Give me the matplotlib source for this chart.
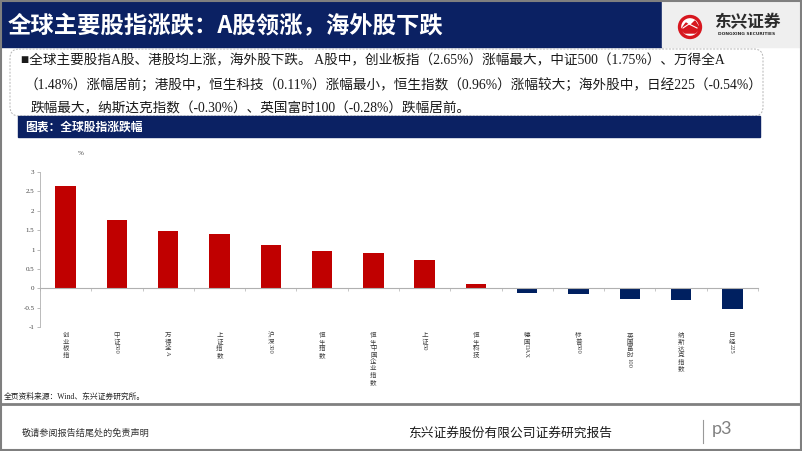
import matplotlib
matplotlib.use('Agg')
import matplotlib.pyplot as plt
import numpy as np
from matplotlib.patches import Rectangle, FancyBboxPatch, Circle, Polygon
from matplotlib.textpath import TextPath
from matplotlib.font_manager import FontProperties

# ---- data ----
names = ['创业板指', '中证500', '万得全A', '上证指数', '沪深300', '恒生指数',
         '恒生中国企业指数', '上证50', '恒生科技', '德国DAX', '标普500',
         '英国富时100', '纳斯达克指数', '日经225']
values = [2.65, 1.75, 1.48, 1.41, 1.12, 0.96, 0.92, 0.73, 0.11,
          -0.13, -0.15, -0.28, -0.30, -0.54]
yticks = [-1, -0.5, 0, 0.5, 1, 1.5, 2, 2.5, 3]

title = '全球主要股指涨跌：A股领涨，海外股下跌'
subtitle = '图表：全球股指涨跌幅'
notes = [
    '■全球主要股指A股、港股均上涨，海外股下跌。 A股中，创业板指（2.65%）涨幅最大，中证500（1.75%）、万得全A',
    '（1.48%）涨幅居前；港股中，恒生科技（0.11%）涨幅最小，恒生指数（0.96%）涨幅较大；海外股中，日经225（-0.54%）',
    '跌幅最大，纳斯达克指数（-0.30%）、英国富时100（-0.28%）跌幅居前。',
]
source = '全页资料来源：Wind、东兴证券研究所。'
disclaimer = '敬请参阅报告结尾处的免责声明'
company = '东兴证券股份有限公司证券研究报告'
page = 'p3'

NAVY = '#0b2163'
RED = '#c00000'
BLUE = '#002060'
CJK = 'Noto Sans CJK SC'
MIX = ['Liberation Serif', CJK]

W, H = 802, 451
fig = plt.figure(figsize=(W / 100, H / 100), dpi=100)

# page furniture drawn in pixel coordinates
bg = fig.add_axes([0, 0, 1, 1])
bg.set_xlim(0, W)
bg.set_ylim(H, 0)
bg.axis('off')

bg.add_patch(Rectangle((0, 0), 662, 47, color=NAVY))
bg.add_patch(Rectangle((662, 0), 140, 47, color='#efefef'))
bg.add_patch(Rectangle((0.8, 0.5), W - 2.3, H - 1.5, fill=False,
                       ec='#7f7f7f', lw=1.5))
bg.text(8, 26, title, color='white', fontsize=16.8, fontweight='bold',
        family=CJK, va='center')

# logo
bg.add_patch(Circle((690, 27), 10.5, fc='white', ec='#d7171f', lw=2.4))
bg.add_patch(Polygon([(681, 30), (686, 23), (690, 26), (695, 21), (700, 29),
                      (695, 33), (685, 33)], closed=True, color='#d7171f'))
bg.plot([683, 689, 697], [28, 24, 28], color='white', lw=0.8)
bg.text(747, 22, '东兴证券', fontsize=12, fontweight='bold', family=CJK,
        color='#2b2b2b', ha='center', va='center')
bg.text(747, 34, 'DONGXING SECURITIES', fontsize=3.2, fontweight='bold',
        color='#2b2b2b', ha='center', va='center')

# summary box
bg.add_patch(FancyBboxPatch((10, 49), 753, 67,
                            boxstyle='round,pad=0,rounding_size=9',
                            fill=False, ec='#b4b4b4', lw=0.7, ls=(0, (2, 1.5))))
for i, (line, x) in enumerate(zip(notes, [21, 24, 31])):
    bg.text(x, 61 + i * 24, line, fontsize=9.8, family=MIX, color='#1a1a1a',
            fontweight='light', va='center')

bg.add_patch(Rectangle((18, 116), 742, 21, color=NAVY))
bg.text(25, 127, subtitle, color='white', fontsize=8.5, fontweight='bold',
        family=CJK, va='center')

# footer
bg.text(4, 397, source, fontsize=5.6, family=MIX, color='#222222', va='center')
bg.plot([0, W], [404, 404], color='#808080', lw=2)
bg.text(22, 433, disclaimer, fontsize=6.6, family=CJK, color='#333333',
        va='center')
bg.text(408, 433, company, fontsize=9.2, family=CJK, color='#1a1a1a',
        va='center')
bg.plot([703, 703], [420, 443], color='#999999', lw=0.8)
bg.text(712, 429, page, fontsize=13, family='Lato', color='#808080',
        va='center')

# ---- chart ----
ax = fig.add_axes([40 / W, 1 - 327 / H, 718 / W, 155 / H])
ax.patch.set_alpha(0)
x = np.arange(len(names))
vals = np.array(values)
colors = np.where(vals >= 0, RED, BLUE)
ax.bar(x, vals, width=0.4, color=colors, zorder=2)

ax.set_xlim(-0.5, len(names) - 0.5)
ax.set_ylim(-1, 3)
ax.set_yticks(yticks)
ax.set_yticklabels(['%g' % t for t in yticks], family='Liberation Serif',
                   fontsize=5, color='#404040')
ax.tick_params(axis='y', length=2, width=0.5, color='#a0a0a0', pad=2)
ax.spines['top'].set_visible(False)
ax.spines['right'].set_visible(False)
ax.spines['left'].set_color('#b0b0b0')
ax.spines['left'].set_linewidth(0.6)
ax.spines['bottom'].set_position(('data', 0))
ax.spines['bottom'].set_color('#b0b0b0')
ax.spines['bottom'].set_linewidth(0.8)
ax.set_xticks(np.arange(len(names) + 1) - 0.5)
ax.set_xticklabels([])
ax.tick_params(axis='x', length=2, width=0.5, color='#b0b0b0')

ax.annotate('%', xy=(0, 1), xycoords='axes fraction', xytext=(29, 13),
            textcoords='offset points', fontsize=5, family='Liberation Serif',
            color='#404040', ha='center', va='center')

# vertical category labels: CJK glyphs upright, latin runs turned
fs = 4.7
latin = FontProperties(family='Liberation Serif')
trans = ax.get_xaxis_transform()
for i, name in enumerate(names):
    runs = []
    for ch in name:
        if ord(ch) < 128 and runs and runs[-1][0] == 'a':
            runs[-1][1] += ch
        else:
            runs.append(['a' if ord(ch) < 128 else 'c', ch])
    off = 3
    for kind, s in runs:
        if kind == 'c':
            ax.annotate(s, xy=(i, 0), xycoords=trans, xytext=(0, -off),
                        textcoords='offset points', fontsize=fs, family=CJK,
                        color='#404040', ha='center', va='top')
            off += fs * 1.02
        else:
            w = TextPath((0, 0), s, size=fs, prop=latin).get_extents().width
            ax.annotate(s, xy=(i, 0), xycoords=trans, xytext=(-0.5, -off),
                        textcoords='offset points', fontsize=fs,
                        family='Liberation Serif', color='#404040',
                        ha='center', va='top', rotation=-90)
            off += w + 1.5

fig.savefig('out.png', dpi=100)
